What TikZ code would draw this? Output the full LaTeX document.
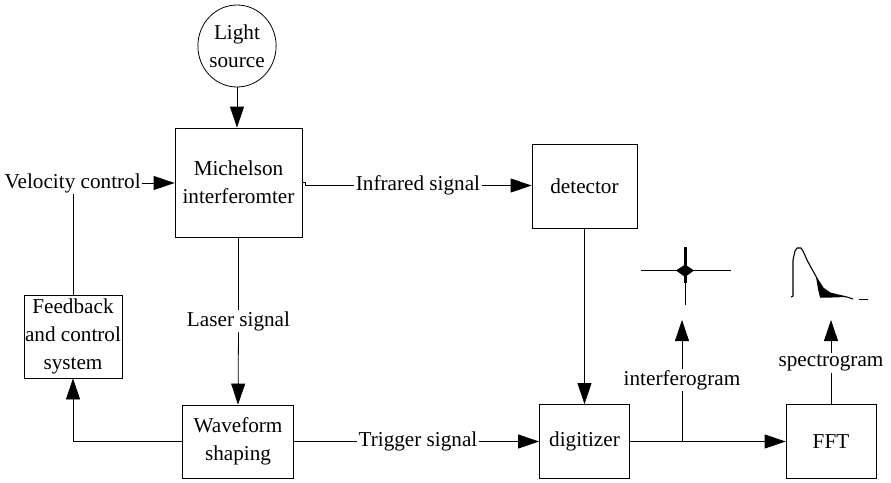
\documentclass[tikz,border=0pt]{standalone}
\usepackage{fontspec}
\setmainfont{Liberation Serif}
\usetikzlibrary{arrows.meta,shapes.geometric}
\begin{document}
\begin{tikzpicture}[x=1pt,y=-1pt,
  font=\fontsize{21.2}{28}\selectfont,
  box/.style={draw, line width=0.8pt, inner sep=0pt, align=center},
  lbl/.style={inner sep=1.5pt, align=center},
  conn/.style={line width=0.8pt},
  arr/.style={conn, -{Triangle[length=21pt,width=14pt]}},
]
\useasboundingbox (0,0) rectangle (891,482);

% blocks
\node[draw, ellipse, line width=0.8pt, inner sep=0pt, align=center,
      minimum width=74pt, minimum height=82pt] (light) at (237,46) {Light\\source};
\node[box, minimum width=127pt, minimum height=109pt] (mich) at (238.5,182.5) {Michelson\\interferomter};
\node[box, minimum width=105pt, minimum height=84pt] (det) at (584.5,186) {detector};
\node[box, minimum width=98pt, minimum height=83pt] (fb) at (73,336.5) {Feedback\\and control\\system};
\node[box, minimum width=111pt, minimum height=73pt] (wf) at (238,441.5) {Waveform\\shaping};
\node[box, minimum width=90pt, minimum height=74pt] (dig) at (584.5,441.5) {digitizer};
\node[box, minimum width=90pt, minimum height=74pt] (fft) at (831,441.5) {FFT};

% labels
\node[lbl, anchor=west] (vc) at (3,183) {Velocity control};
\node[lbl] (irs) at (418,185.5) {Infrared signal};
\node[lbl] (las) at (238.5,321) {Laser signal};
\node[lbl] (trg) at (418,441.5) {Trigger signal};
\node[lbl] (ifg) at (682,380) {interferogram};
\node[lbl] (spg) at (831,363) {spectrogram};

\coordinate (br) at (682,441.5);
\coordinate (ifgtip) at (682,320);
\coordinate (spgtip) at (831,320);

% connectors
\draw[arr] (light.south) -- (light.south |- mich.north);
\draw[arr] (vc.east) -- (vc.east -| mich.west);
\draw[conn] (fb.north) -- (fb.north |- vc.south);
\draw[conn] (mich.east) -- ++(3,0) -- ++(0,3) -- (irs.west);
\draw[arr] (irs.east) -- (irs.east -| det.west);
\draw[conn] (mich.south) -- (las.north);
\draw[arr] (las.south) -- (wf.north);
\draw[arr] (wf.west) -| (fb.south);
\draw[conn] (wf.east) -- (trg.west);
\draw[arr] (trg.east) -- (dig.west);
\draw[arr] (det.south) -- (dig.north);
\draw[arr] (dig.east) -- (fft.west);
\draw[conn] (br) -- (ifg.south);
\draw[arr] (ifg.north) -- (ifgtip);
\draw[conn] (fft.north) -- (spg.south);
\draw[arr] (spg.north) -- (spgtip);

% interferogram icon
\draw[line width=1pt] (641,270) -- (731,270);
\draw[line width=1pt] (685,247) -- (685,305);
\draw[line width=3pt] (685,247) -- (685,283);
\fill (676,270.5) -- (685,264.5) -- (694,270.5) -- (685,277) -- cycle;

% spectrogram icon
\draw[line width=1.1pt, line join=round]
  (791,297) -- (793,296) -- (793,260) -- (795,251) -- (797,248) -- (801,248)
  -- (803,251) -- (807,260) -- (813,271) -- (818,280) -- (823,288)
  -- (830,293) -- (838,295) -- (847,297) -- (853,299);
\draw[line width=1.3pt] (859,299.5) -- (868,299.5);
\fill (816,277) -- (823,288) -- (830,293) -- (838,295) -- (846,297)
  -- (832,297.5) -- (820,297.5) -- (818,289) -- cycle;
\end{tikzpicture}
\end{document}
